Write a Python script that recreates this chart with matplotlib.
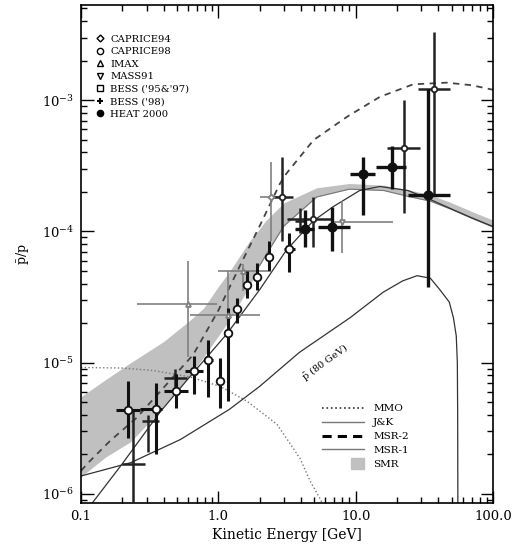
import numpy as np
import matplotlib.pyplot as plt
from matplotlib.lines import Line2D
from matplotlib.patches import Patch, Rectangle
from matplotlib.legend_handler import HandlerPatch
from matplotlib.ticker import FixedLocator, FixedFormatter, LogLocator, NullFormatter

plt.rcParams['font.family'] = ['DejaVu Serif']
plt.rcParams['mathtext.fontset'] = 'dejavuserif'

# --- curvas teóricas (E en GeV, cociente pbar/p) ---
smr_e = [0.1, 0.15, 0.23, 0.4, 0.62, 0.78, 1.0, 1.2, 1.5, 1.7, 2.0, 2.2, 3.0,
         5.2, 9.0, 16, 24, 35, 50, 70, 100]
smr_top = [5.5e-6, 7.4e-6, 1.0e-5, 1.45e-5, 2.1e-5, 2.6e-5, 3.8e-5, 4.9e-5, 7.0e-5,
           8.5e-5, 1.05e-4, 1.2e-4, 1.65e-4, 2.15e-4, 2.32e-4, 2.25e-4, 2.08e-4,
           1.9e-4, 1.65e-4, 1.42e-4, 1.22e-4]
smr_bot = [1.35e-6, 1.9e-6, 2.5e-6, 4.6e-6, 8.0e-6, 1.1e-5, 1.6e-5, 2.1e-5, 3.1e-5,
           3.9e-5, 5.5e-5, 6.5e-5, 1.1e-4, 1.83e-4, 2.1e-4, 2.05e-4, 1.85e-4,
           1.7e-4, 1.47e-4, 1.26e-4, 1.08e-4]

msr2_e = [0.1, 0.113, 0.163, 0.254, 0.444, 0.656, 1.0, 1.44, 2.0, 2.8, 3.13, 4.93,
          8.63, 15, 26.2, 45.8, 70, 100]
msr2_y = [1.5e-6, 1.73e-6, 2.54e-6, 3.8e-6, 7.3e-6, 1.15e-5, 2.5e-5, 5.5e-5, 1.1e-4,
          2.3e-4, 2.76e-4, 4.96e-4, 7.46e-4, 1.06e-3, 1.32e-3, 1.36e-3, 1.3e-3, 1.2e-3]

jk_e = [0.11, 0.2, 0.376, 0.6, 1.15, 2.0, 3.13, 4.9, 6.9, 10.7, 15, 24, 35, 50, 70, 100]
jk_y = [7.5e-7, 1.7e-6, 4.2e-6, 7.5e-6, 1.65e-5, 3.6e-5, 7.2e-5, 1.2e-4, 1.55e-4,
        2.05e-4, 2.2e-4, 2.05e-4, 1.75e-4, 1.48e-4, 1.27e-4, 1.09e-4]

msr1_e = [2.0, 2.2, 3.0, 5.2, 9.0, 16, 24, 35, 50, 70, 100]
msr1_y = [5.5e-5, 6.5e-5, 1.1e-4, 1.83e-4, 2.1e-4, 2.05e-4, 1.85e-4, 1.7e-4,
          1.47e-4, 1.26e-4, 1.08e-4]

mmo_e = [0.1, 0.2, 0.34, 0.62, 1.03, 1.61, 2.67, 3.93, 4.65, 5.6, 5.9]
mmo_y = [9.2e-6, 9.1e-6, 8.7e-6, 7.8e-6, 6.6e-6, 5.1e-6, 3.4e-6, 1.87e-6, 1.26e-6,
         8.9e-7, 7e-7]

pbar80_e = [0.1, 0.23, 0.53, 1.2, 2.0, 3.9, 9.1, 15.9, 22, 28, 35, 41, 48, 51.5,
            54, 55, 55.3, 55.5]
pbar80_y = [1.37e-6, 1.73e-6, 2.6e-6, 4.4e-6, 6.6e-6, 1.2e-5, 2.2e-5, 3.45e-5, 4.2e-5,
            4.6e-5, 4.4e-5, 3.6e-5, 2.9e-5, 2.2e-5, 1.6e-5, 1.0e-5, 4e-6, 7e-7]

# --- datos experimentales: E, y, y_min, y_max, E_min, E_max ---
bess9597_E = [0.221, 0.351, 0.493, 0.669, 0.846, 1.02, 1.18, 1.37, 1.62, 1.92, 2.34, 3.28]
bess9597_y = [4.35e-6, 4.44e-6, 6.1e-6, 8.6e-6, 1.05e-5, 7.3e-6, 1.67e-5, 2.57e-5,
              3.94e-5, 4.53e-5, 6.4e-5, 7.4e-5]
bess9597_ylo = [2.67e-6, 2.0e-6, 4.5e-6, 5.8e-6, 5.5e-6, 4.5e-6, 5.1e-6, 2.0e-5,
                3.1e-5, 3.6e-5, 5.0e-5, 4.9e-5]
bess9597_yhi = [7.3e-6, 7.0e-6, 8.2e-6, 1.12e-5, 1.5e-5, 1.08e-5, 2.6e-5, 3.1e-5,
                5.0e-5, 5.7e-5, 8.5e-5, 9.7e-5]
bess9597_Elo = [0.18, 0.27, 0.40, 0.57, 0.79, 0.97, 1.12, 1.30, 1.55, 1.82, 2.2, 3.0]
bess9597_Ehi = [0.27, 0.39, 0.60, 0.77, 0.91, 1.07, 1.25, 1.45, 1.70, 2.02, 2.5, 3.6]

bess98_E = [0.239, 0.309, 0.48, 3.9]
bess98_y = [1.7e-6, 3.6e-6, 7.7e-6, 1.2e-4]
bess98_ylo = [5e-7, 2.1e-6, 6.5e-6, 9.7e-5]
bess98_yhi = [4.3e-6, 4.0e-6, 9.0e-6, 1.5e-4]
bess98_Elo = [0.20, 0.28, 0.40, 3.6]
bess98_Ehi = [0.29, 0.37, 0.59, 4.2]

imax_E = [0.6, 1.18, 1.5]
imax_y = [2.8e-5, 2.3e-5, 5.0e-5]
imax_ylo = [1.1e-5, 1.17e-5, 3.5e-5]
imax_yhi = [6.0e-5, 5.0e-5, 5.6e-5]
imax_Elo = [0.254, 0.62, 1.0]
imax_Ehi = [0.97, 2.0, 2.3]

cap94_E = [2.4]
cap94_y = [1.83e-4]
cap94_ylo = [8.5e-5]
cap94_yhi = [3.4e-4]
cap94_Elo = [2.0]
cap94_Ehi = [3.0]

cap98_E = [2.9, 4.9, 22.3, 37.2]
cap98_y = [1.83e-4, 1.25e-4, 4.35e-4, 1.21e-3]
cap98_ylo = [8.5e-5, 7.6e-5, 1.37e-4, 1.9e-4]
cap98_yhi = [3.7e-4, 1.83e-4, 1.0e-3, 3.3e-3]
cap98_Elo = [2.4, 3.15, 16.8, 28.5]
cap98_Ehi = [3.5, 6.8, 29.2, 48.8]

mass91_E = [7.9]
mass91_y = [1.18e-4]
mass91_ylo = [6.9e-5]
mass91_yhi = [1.72e-4]
mass91_Elo = [6.86]
mass91_Ehi = [18.8]

heat_E = [4.3, 6.67, 11.3, 18.3, 33.8]
heat_y = [1.05e-4, 1.08e-4, 2.75e-4, 3.1e-4, 1.91e-4]
heat_ylo = [7.6e-5, 7.1e-5, 1.33e-4, 2.1e-4, 3.8e-5]
heat_yhi = [1.45e-4, 1.53e-4, 3.7e-4, 4.5e-4, 1.21e-3]
heat_Elo = [3.6, 5.3, 9.1, 14.0, 24.2]
heat_Ehi = [5.0, 9.1, 13.9, 23.4, 48.5]


def puntos(ax, E, y, ylo, yhi, Elo, Ehi, marker, ms, mfc, color, lw):
    E, y = np.array(E), np.array(y)
    xerr = [E - np.array(Elo), np.array(Ehi) - E]
    yerr = [y - np.array(ylo), np.array(yhi) - y]
    ax.errorbar(E, y, xerr=xerr, yerr=yerr, fmt=marker, ms=ms, mfc=mfc, mec=color,
                mew=1.3, color=color, elinewidth=lw, capsize=0, zorder=5)


fig = plt.figure(figsize=(5.22, 5.5), dpi=100)
ax = fig.add_axes([81 / 522, 47 / 550, 412 / 522, 498 / 550])
ax.set_xscale('log')
ax.set_yscale('log')
ax.set_xlim(0.1, 100)
ax.set_ylim(8.53e-7, 5.31e-3)

gris = '#c0c0c0'
ax.fill_between(smr_e, smr_bot, smr_top, color=gris, lw=0, zorder=1)
ax.plot(msr1_e, msr1_y, color='#777777', lw=0.8, zorder=2)
ax.plot(jk_e, jk_y, color='#333333', lw=0.9, zorder=2)
ax.plot(msr2_e, msr2_y, color='#444444', lw=1.3, dashes=(3.5, 3), zorder=2)
ax.plot(mmo_e, mmo_y, color='#777777', lw=1.0, ls=':', zorder=2)
ax.plot(pbar80_e, pbar80_y, color='#333333', lw=0.9, zorder=2)
ax.text(6.0, 1.0e-5, r'$\bar{\rm p}$ (80 GeV)', rotation=36, fontsize=7,
        ha='center', va='center', rotation_mode='anchor')

puntos(ax, imax_E, imax_y, imax_ylo, imax_yhi, imax_Elo, imax_Ehi, '^', 3.5, 'white', '#808080', 1.2)
puntos(ax, cap94_E, cap94_y, cap94_ylo, cap94_yhi, cap94_Elo, cap94_Ehi, 'D', 3, 'white', '#808080', 1.2)
puntos(ax, mass91_E, mass91_y, mass91_ylo, mass91_yhi, mass91_Elo, mass91_Ehi, 'v', 3.5, 'white', '#808080', 1.2)
puntos(ax, bess98_E, bess98_y, bess98_ylo, bess98_yhi, bess98_Elo, bess98_Ehi, '+', 0, 'none', '#222222', 1.8)
puntos(ax, cap98_E, cap98_y, cap98_ylo, cap98_yhi, cap98_Elo, cap98_Ehi, 'o', 4, 'white', '#222222', 1.8)
puntos(ax, bess9597_E, bess9597_y, bess9597_ylo, bess9597_yhi, bess9597_Elo, bess9597_Ehi, 'o', 5.5, 'white', '#111111', 2.2)
puntos(ax, heat_E, heat_y, heat_ylo, heat_yhi, heat_Elo, heat_Ehi, 'o', 6, '#111111', '#111111', 2.4)

# ejes
ax.xaxis.set_major_locator(FixedLocator([0.1, 1, 10, 100]))
ax.xaxis.set_major_formatter(FixedFormatter(['0.1', '1.0', '10.0', '100.0']))
ax.xaxis.set_minor_locator(LogLocator(base=10, subs=np.arange(2, 10)))
ax.xaxis.set_minor_formatter(NullFormatter())
ax.yaxis.set_minor_locator(LogLocator(base=10, subs=np.arange(2, 10)))
ax.yaxis.set_minor_formatter(NullFormatter())
ax.tick_params(which='both', direction='in', top=True, right=True, width=1, labelsize=9.5)
ax.tick_params(which='major', length=9, pad=5)
ax.tick_params(which='minor', length=4.5)
for s in ax.spines.values():
    s.set_linewidth(1.2)

ax.set_xlabel('Kinetic Energy [GeV]', fontsize=10, labelpad=4)
ax.set_ylabel(r'$\bar{\rm p}$/p', fontsize=9, labelpad=8)

# leyenda de experimentos
h1 = [Line2D([], [], marker='D', ls='none', mfc='white', mec='k', ms=3.5, mew=1),
      Line2D([], [], marker='o', ls='none', mfc='white', mec='k', ms=4.5, mew=1),
      Line2D([], [], marker='^', ls='none', mfc='white', mec='k', ms=4.5, mew=1),
      Line2D([], [], marker='v', ls='none', mfc='white', mec='k', ms=4.5, mew=1),
      Line2D([], [], marker='s', ls='none', mfc='white', mec='k', ms=4.5, mew=1),
      Line2D([], [], marker='+', ls='none', mec='k', ms=5, mew=1.5),
      Line2D([], [], marker='o', ls='none', mfc='k', mec='k', ms=4.5)]
l1 = ['CAPRICE94', 'CAPRICE98', 'IMAX', 'MASS91', "BESS ('95&'97)", "BESS ('98)", 'HEAT 2000']
leg1 = ax.legend(h1, l1, loc='upper left', bbox_to_anchor=(0.035, 0.94), frameon=False,
                 fontsize=7.2, handlelength=1.0, handletextpad=0.5, labelspacing=0.35,
                 borderpad=0, borderaxespad=0)
ax.add_artist(leg1)


def cuadro(legend, orig_handle, xdescent, ydescent, width, height, fontsize):
    return Rectangle((-xdescent + width * 0.7, -ydescent - 0.25 * height),
                     width * 0.3, height * 1.5)


h2 = [Line2D([], [], color='#333333', lw=1.2, ls=':'),
      Line2D([], [], color='#777777', lw=1.0),
      Line2D([], [], color='k', lw=2.2, dashes=(3, 2)),
      Line2D([], [], color='#777777', lw=1.0),
      Patch(color=gris)]
l2 = ['MMO', 'J&K', 'MSR-2', 'MSR-1', 'SMR']
leg2 = ax.legend(h2, l2, loc='upper left', bbox_to_anchor=(0.585, 0.199), frameon=False,
                 fontsize=7.5, handlelength=4.0, handletextpad=0.9, labelspacing=0.45,
                 borderpad=0, borderaxespad=0,
                 handler_map={Patch: HandlerPatch(patch_func=cuadro)})

fig.savefig('out.png', dpi=100)
